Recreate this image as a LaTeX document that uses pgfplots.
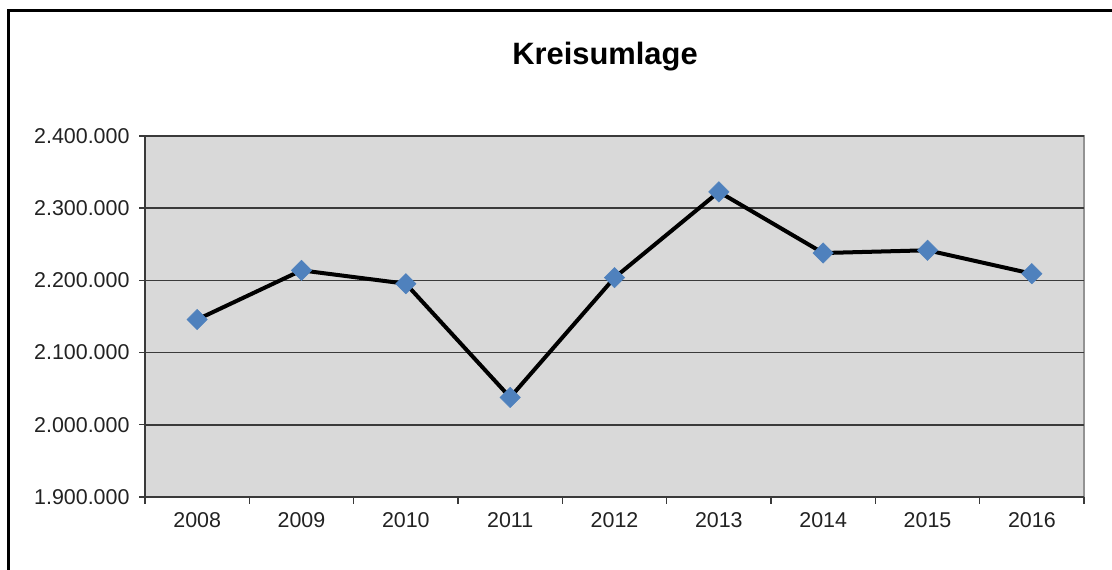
\documentclass[border=0pt]{standalone}
\usepackage{pgfplots}
\pgfplotsset{compat=1.18}
\usepackage{fontspec}
\setmainfont{Liberation Sans}
\definecolor{plotbg}{HTML}{D9D9D9}
\definecolor{markblue}{HTML}{4F81BD}
\definecolor{gridc}{HTML}{3A3A3A}
\definecolor{txtc}{HTML}{222222}
\begin{document}
\begin{tikzpicture}[x=1bp,y=1bp]
\useasboundingbox (0,0) rectangle (1112,570);
\draw[line width=3bp, black] (8,0) -- (8,559) -- (1113,559);
\node[font=\fontsize{31}{36}\selectfont\bfseries, anchor=base] at (605,505) {Kreisumlage};
\begin{axis}[
  at={(145bp,73bp)}, anchor=south west,
  scale only axis, width=939bp, height=361bp,
  xmin=-0.5, xmax=8.5, ymin=1900000, ymax=2400000,
  axis x line*=bottom, axis y line*=left,
  axis line style={line width=1.6bp, color=gridc},
  axis background/.style={fill=plotbg, draw=gray!85, line width=1.6bp},
  xtick={0,...,8},
  xticklabels={2008,2009,2010,2011,2012,2013,2014,2015,2016},
  major x tick style={draw=none},
  minor xtick={-0.5,0.5,...,8.5},
  minor x tick style={line width=1.4bp, color=gridc},
  minor tick length=7bp,
  ytick={1900000,2000000,2100000,2200000,2300000,2400000},
  yticklabels={1.900.000,2.000.000,2.100.000,2.200.000,2.300.000,2.400.000},
  scaled y ticks=false,
  major tick length=6bp,
  y tick style={line width=1.4bp, color=gridc},
  tick align=outside,
  ymajorgrids, grid style={line width=1.6bp, color=gridc},
  ticklabel style={font=\fontsize{21.5}{24}\selectfont, text=txtc},
  xticklabel style={yshift=-6bp},
  yticklabel style={xshift=-6bp},
  clip=false,
]
\addplot[black, line width=4bp, mark=square*, mark size=7.2bp,
  mark options={solid, rotate=45, fill=markblue, draw=markblue, line width=0.5bp}]
  coordinates {
  (0,2145800) (1,2213900) (2,2195400) (3,2037900) (4,2203750)
  (5,2322600) (6,2237900) (7,2241700) (8,2209300)
  };
\end{axis}
\end{tikzpicture}
\end{document}
